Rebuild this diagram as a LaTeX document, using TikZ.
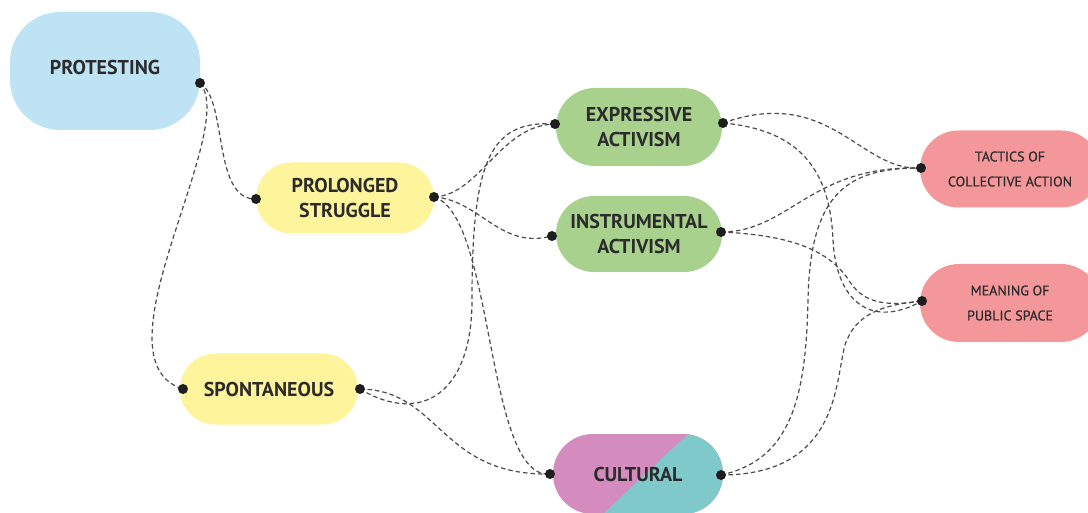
\documentclass[tikz,border=0pt]{standalone}
\usepackage{fontspec}
\setmainfont{PT Sans}
\newfontfamily\smallsans{PT Sans}[FakeBold=0.5]
\usetikzlibrary{calc}
\definecolor{cblue}{HTML}{BEE3F4}
\definecolor{cyellow}{HTML}{FEF49C}
\definecolor{cgreen}{HTML}{A9D18E}
\definecolor{cred}{HTML}{F4979B}
\definecolor{cpink}{HTML}{D48BBE}
\definecolor{cteal}{HTML}{7FC9CB}
\definecolor{ctext}{HTML}{2B2B2B}
\definecolor{cline}{HTML}{4A4A4A}
\definecolor{cdot}{HTML}{1E1E1E}
\begin{document}
\begin{tikzpicture}[x=1pt,y=-1pt,
  box/.style={rectangle, inner sep=0pt, align=center, text=ctext},
  mainfont/.style={font=\fontsize{20}{25}\selectfont\bfseries},
  smallfont/.style={font=\smallsans\fontsize{14}{25}\selectfont},
  link/.style={draw=cline, line width=1.2pt, dash pattern=on 4.5pt off 3pt},
  dot/.style={fill=cdot}]
\useasboundingbox (0,0) rectangle (1088,513);
% nodes
\node[box, mainfont, fill=cblue, minimum width=190pt, minimum height=118pt, rounded corners=50pt, text depth=8pt] (prot) at (105,71) {PROTESTING};
\node[box, mainfont, fill=cyellow, minimum width=178pt, minimum height=71pt, rounded corners=35.4pt] (pro) at (345,198) {PROLONGED\\STRUGGLE};
\node[box, mainfont, fill=cyellow, minimum width=178pt, minimum height=71pt, rounded corners=35.4pt] (spo) at (269,389) {SPONTANEOUS};
\node[box, mainfont, fill=cgreen, minimum width=166pt, minimum height=78pt, rounded corners=38.9pt] (exp) at (639,127) {EXPRESSIVE\\ACTIVISM};
\node[box, mainfont, fill=cgreen, minimum width=166pt, minimum height=76pt, rounded corners=37.9pt] (ins) at (639,234) {INSTRUMENTAL\\ACTIVISM};
\node[box, mainfont, fill=cpink, minimum width=170pt, minimum height=80pt, rounded corners=39.9pt,
  path picture={\fill[cteal, sharp corners] ($(path picture bounding box.north)+(50,0)$) -- ($(path picture bounding box.south)+(-35,0)$) -- (path picture bounding box.south east) -- (path picture bounding box.north east) -- cycle;}] (cul) at (638,474) {CULTURAL};
\node[box, smallfont, fill=cred, minimum width=180pt, minimum height=77pt, rounded corners=38.4pt] (tac) at (1010,169) {TACTICS OF\\COLLECTIVE ACTION};
\node[box, smallfont, fill=cred, minimum width=180pt, minimum height=78pt, rounded corners=38.9pt] (mea) at (1010,303) {MEANING OF\\PUBLIC SPACE};
% connector ends
\coordinate (protR) at (200,83);
\coordinate (proL) at (256,199);
\coordinate (proR) at (434,197);
\coordinate (spoL) at (183,389);
\coordinate (spoR) at (360,389);
\coordinate (expL) at (555,124);
\coordinate (expR) at (723,123);
\coordinate (insL) at (552,236);
\coordinate (insR) at (721,232);
\coordinate (culL) at (550,474);
\coordinate (culR) at (721,475);
\coordinate (tacL) at (921,168);
\coordinate (meaL) at (922,301);
% connectors
\draw[link] (protR) .. controls (228,100) and (212,200) .. (proL);
\draw[link] (protR) .. controls (240,130) and (90,360) .. (spoL);
\draw[link] (proR) .. controls (480,195) and (500,125) .. (expL);
\draw[link] (proR) .. controls (480,200) and (500,250) .. (insL);
\draw[link] (proR) .. controls (495,215) and (485,480) .. (culL);
\draw[link] (spoR) .. controls (420,425) and (472,395) .. (472,300) .. controls (472,160) and (490,120) .. (expL);
\draw[link] (spoR) .. controls (440,390) and (440,476) .. (culL);
\draw[link] (expR) .. controls (830,85) and (860,172) .. (tacL);
\draw[link] (expR) .. controls (800,130) and (830,170) .. (833,240) .. controls (836,300) and (870,330) .. (meaL);
\draw[link] (insR) .. controls (790,232) and (810,165) .. (tacL);
\draw[link] (insR) .. controls (790,235) and (830,250) .. (850,282) .. controls (865,305) and (890,306) .. (meaL);
\draw[link] (culR) .. controls (790,460) and (806,400) .. (808,300) .. controls (810,190) and (850,168) .. (tacL);
\draw[link] (culR) .. controls (840,475) and (835,380) .. (845,345) .. controls (855,315) and (880,305) .. (meaL);
% dots
\foreach \p in {protR,proL,proR,spoL,spoR,expL,expR,insL,insR,culL,culR,tacL,meaL}
  \fill[dot] (\p) circle (5pt);
\end{tikzpicture}
\end{document}
